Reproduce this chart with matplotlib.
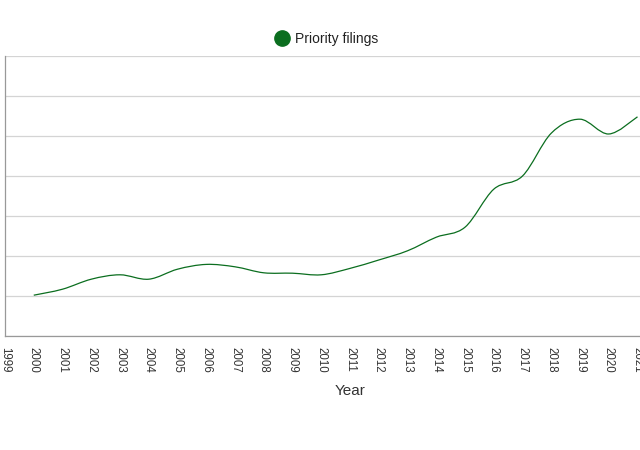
import numpy as np
import matplotlib
matplotlib.use('Agg')
import matplotlib.pyplot as plt
from matplotlib.path import Path
from matplotlib.patches import PathPatch
from matplotlib.lines import Line2D

plt.rcParams['font.family'] = ['Liberation Sans', 'DejaVu Sans']

# data (y axis labels are cut off, so units are relative)
years = [2000, 2001, 2002, 2003, 2004, 2005, 2006, 2007, 2008, 2009, 2010,
         2011, 2012, 2013, 2014, 2015, 2016, 2017, 2018, 2019, 2020, 2021]
filings = [102, 117, 142, 153, 142, 167, 179, 173, 158, 157, 153,
           169, 190, 213, 247, 272, 367, 400, 507, 542, 505, 548]
tick_years = list(range(1999, 2022))
series_name = 'Priority filings'
green = '#0b6e1f'

fig = plt.figure(figsize=(6.4, 4.5), dpi=100)
# axes run past the right edge of the picture, as in the reference
ax = fig.add_axes([5 / 640, 1 - 336 / 450, 690 / 640, 280 / 450])
ax.set_xlim(1999, 2023)
ax.set_ylim(0, 700)

# smooth curve: cubic bezier segments through the data points
pts = np.column_stack([years, filings]).astype(float)
verts = [tuple(pts[0])]
codes = [Path.MOVETO]
n = len(pts)
for i in range(n - 1):
    p0 = pts[max(i - 1, 0)]
    p1 = pts[i]
    p2 = pts[i + 1]
    p3 = pts[min(i + 2, n - 1)]
    c1 = p1 + (p2 - p0) / 6
    c2 = p2 - (p3 - p1) / 6
    verts += [tuple(c1), tuple(c2), tuple(p2)]
    codes += [Path.CURVE4] * 3
ax.add_patch(PathPatch(Path(verts, codes), fill=False, edgecolor=green, lw=0.9, zorder=3))

ax.set_yticks(range(0, 701, 100))
ax.set_yticklabels([])
ax.grid(axis='y', color='#d4d4d4', lw=0.9)
ax.set_axisbelow(True)
ax.tick_params(axis='y', length=0)

ax.set_xticks(tick_years)
ax.set_xticklabels([str(y) for y in tick_years], rotation=-90, fontsize=8.3, color='#333333')
ax.tick_params(axis='x', length=0, pad=8)

for s in ['top', 'right']:
    ax.spines[s].set_visible(False)
ax.spines['left'].set_color('#999999')
ax.spines['bottom'].set_color('#999999')
ax.spines['left'].set_linewidth(0.9)
ax.spines['bottom'].set_linewidth(0.9)

ax.set_xlabel('Year', fontsize=11, color='#333333')
ax.xaxis.set_label_coords(0.5, -0.17)

handle = Line2D([], [], color=green, marker='o', markersize=11, linestyle='none')
fig.legend([handle], [series_name], loc='center', bbox_to_anchor=(327 / 640, 1 - 39 / 450),
           frameon=False, fontsize=10, handletextpad=0.45, handlelength=1.0, labelcolor='#222222')

fig.savefig('out.png', dpi=100)
